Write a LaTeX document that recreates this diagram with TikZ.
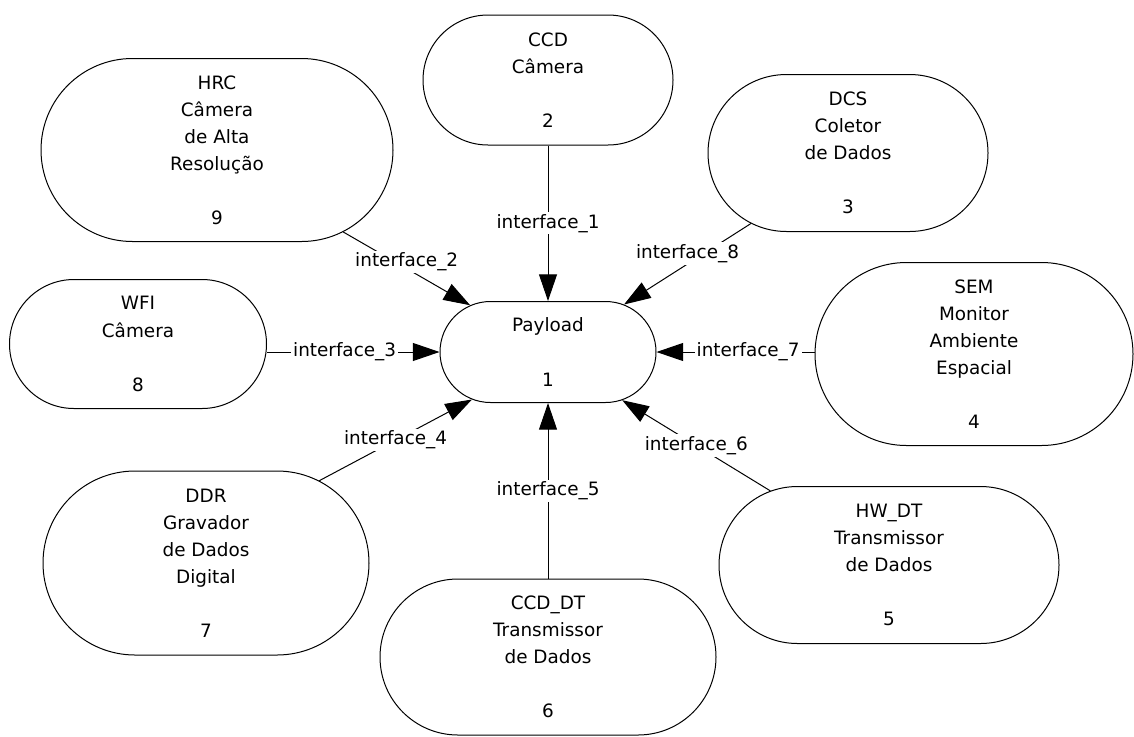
\documentclass[tikz,border=0pt]{standalone}
\usepackage{fontspec}
\setmainfont{DejaVu Sans}
\usetikzlibrary{shapes.misc}
\usetikzlibrary{arrows.meta}

\begin{document}
\begin{tikzpicture}[x=0.75pt,y=-0.75pt,->,>={Triangle[length=20pt,width=13.5pt]},
                    line width=0.75pt,
                    font=\fontsize{13.8pt}{20.3pt}\selectfont,
                    blk/.style 2 args={draw,rounded rectangle,align=center,
                      inner sep=0pt,minimum width=#1*0.75pt,minimum height=#2*0.75pt},
                    ifc/.style={fill=white,inner sep=1.5pt}]
  \useasboundingbox (0,0) rectangle (1134,736);

  \node[blk={216}{101}] (P)     at (548,352) {Payload\\[\baselineskip]1};
  \node[blk={250}{130}] (CCD)   at (548,80)  {CCD\\Câmera\\[\baselineskip]2};
  \node[blk={280}{157}] (DCS)   at (848,153) {DCS\\Coletor\\de Dados\\[\baselineskip]3};
  \node[blk={318}{183}] (SEM)   at (974,354) {SEM\\Monitor\\Ambiente\\Espacial\\[\baselineskip]4};
  \node[blk={340}{157}] (HWDT)  at (889,565) {HW\_DT\\Transmissor\\de Dados\\[\baselineskip]5};
  \node[blk={336}{156}] (CCDDT) at (548,657) {CCD\_DT\\Transmissor\\de Dados\\[\baselineskip]6};
  \node[blk={326}{184}] (DDR)   at (206,563) {DDR\\Gravador\\de Dados\\Digital\\[\baselineskip]7};
  \node[blk={257}{129}] (WFI)   at (138,344) {WFI\\Câmera\\[\baselineskip]8};
  \node[blk={352}{183}] (HRC)   at (217,150) {HRC\\Câmera\\de Alta\\Resolução\\[\baselineskip]9};

  \path
        (CCD.south)          edge node[ifc]              {interface\_1} (P.north)
        (HRC.-33)            edge node[ifc,yshift=5pt]   {interface\_2} (P.149)
        (P.west -| WFI.east) edge node[ifc,pos=.45]      {interface\_3} (P.west)
        (DDR.36)             edge node[ifc]              {interface\_4} (P.-148)
        (CCDDT.north)        edge node[ifc]              {interface\_5} (P.south)
        (HWDT.148)           edge node[ifc]              {interface\_6} (P.-33)
        (P.east -| SEM.west) edge node[ifc,pos=.42]      {interface\_7} (P.east)
        (DCS.-144)           edge node[ifc,yshift=8pt]   {interface\_8} (P.32)
  ;
\end{tikzpicture}
\end{document}
